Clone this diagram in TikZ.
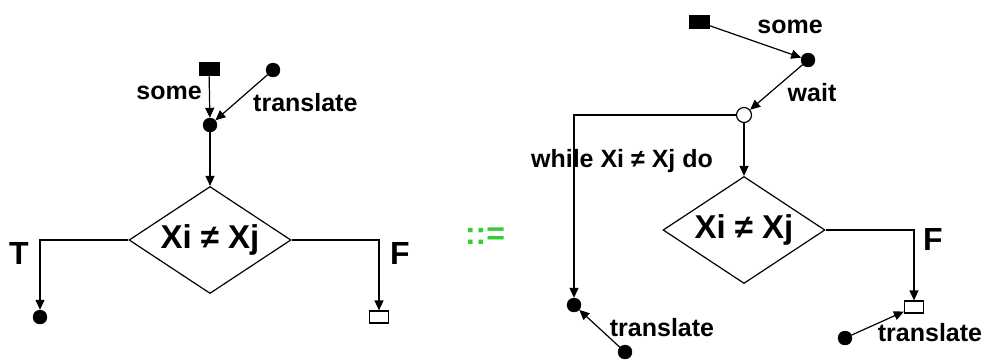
\documentclass[tikz,border=0pt]{standalone}
\usepackage{fontspec}
\setmainfont{Liberation Sans}
\usetikzlibrary{arrows.meta,shapes.geometric}
\tikzset{
  token/.style={draw,fill=black,inner sep=0pt,minimum width=20pt,minimum height=13pt},
  sink/.style={draw,fill=white,line width=1.2pt,inner sep=0pt,minimum width=19pt,minimum height=12pt},
  blob/.style={circle,draw,fill=black,inner sep=0pt,minimum size=14pt},
  hollow/.style={circle,draw,fill=white,line width=1.2pt,inner sep=0pt,minimum size=15pt},
  testbox/.style={diamond,draw,line width=1.2pt,inner sep=0pt,shape aspect=1.5,minimum width=162pt,minimum height=107pt,font=\fontsize{33}{38}\selectfont\bfseries},
  flowarr/.style={-{Triangle[length=10pt,width=9pt]},line width=1.2pt},
  flowline/.style={line width=1.2pt},
  lbl/.style={inner sep=0pt,font=\fontsize{25}{30}\selectfont\bfseries},
  biglbl/.style={inner sep=0pt,font=\fontsize{32}{38}\selectfont\bfseries}
}

\begin{document}
\begin{tikzpicture}[x=1pt,y=-1pt]
  \useasboundingbox (0,0) rectangle (992,360);

  \node[token] (sqL) at (209,69) {};
  \node[blob] (trL) at (273,70) {};
  \node[blob] (joinL) at (210,125) {};
  \node[testbox] (testL) at (210,240) {Xi ≠ Xj};
  \node[blob] (outT) at (40,317) {};
  \node[sink] (outF) at (379,317) {};
  \draw[flowarr] (sqL) -- (joinL);
  \draw[flowarr] (trL) -- (joinL);
  \draw[flowarr] (joinL) -- (testL.north);
  \draw[flowarr] (testL.west) -| (outT);
  \draw[flowarr] (testL.east) -| (outF);
  \node[lbl,anchor=east] (someL) at (202,93) {some};
  \node[lbl,anchor=west] (transL) at (253,103) {translate};
  \node[biglbl] (labT) at (19,253) {T};
  \node[biglbl] (labFL) at (400,253) {F};

  \node[biglbl,text={rgb,255:red,51;green,204;blue,51}] (defeq) at (485,236) {::=};

  \node[token] (sqR) at (699,22) {};
  \node[blob] (waitR) at (808,60) {};
  \node[hollow] (loopR) at (744,115) {};
  \node[testbox] (testR) at (744,230) {Xi ≠ Xj};
  \node[blob] (doneR) at (574,305) {};
  \node[sink] (exitR) at (914,307) {};
  \node[blob] (trBL) at (625,352) {};
  \node[blob] (trBR) at (845,338) {};
  \draw[flowarr] (sqR) -- (waitR);
  \draw[flowarr] (waitR) -- (loopR);
  \draw[flowarr] (loopR) -- (testR.north);
  \draw[flowarr] (loopR.west) -| (doneR);
  \draw[flowarr] (testR.east) -| (exitR);
  \draw[flowarr] (trBL) -- (doneR);
  \draw[flowarr] (trBR) -- (exitR);
  \node[lbl] (someR) at (790,27) {some};
  \node[lbl] (waitlab) at (812,93) {wait};
  \node[lbl] (whilelab) at (622,161) {while Xi ≠ Xj do};
  \node[biglbl] (labFR) at (933,239) {F};
  \node[lbl] (transBL) at (662,328) {translate};
  \node[lbl] (transBR) at (930,333) {translate};
\end{tikzpicture}
\end{document}
